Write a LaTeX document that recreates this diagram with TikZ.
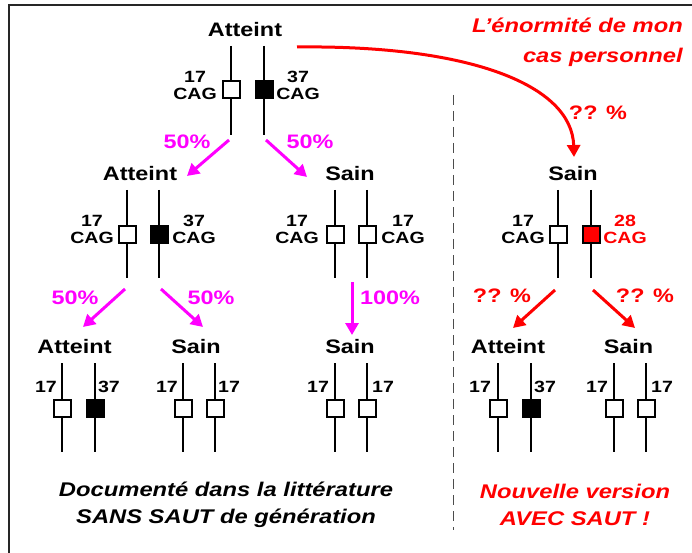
\documentclass[tikz,border=0pt]{standalone}
\usepackage{fontspec}
\setmainfont{Liberation Sans}[FakeStretch=1.2]
\usetikzlibrary{arrows.meta}
\definecolor{mag}{HTML}{FF00FF}
\definecolor{rd}{HTML}{FF0000}
\begin{document}
\begin{tikzpicture}[x=1pt,y=-1pt,
  chr/.style={line width=2pt,black},
  box/.style={draw=black,line width=2pt,minimum width=17pt,minimum height=17pt,inner sep=0pt,fill=white},
  title/.style={font=\fontsize{19.5}{20}\selectfont\bfseries},
  lbl/.style={font=\fontsize{16.3}{16.8}\selectfont\bfseries,align=center,inner sep=0pt},
  pct/.style={font=\fontsize{19.5}{20}\selectfont\bfseries,inner sep=0pt},
  marr/.style={mag,line width=3pt,-{Triangle[length=12pt,width=13pt]}},
  rarr/.style={rd,line width=3pt,-{Triangle[length=12pt,width=13pt]}},
  note/.style={font=\fontsize{19.8}{27}\selectfont\bfseries\itshape,align=center,inner sep=0pt}]
\useasboundingbox (0,0) rectangle (692,553);
\draw[line width=1.5pt,black!85] (692,5) -- (9,5) -- (9,553);
% ---------- level 1 ----------
\node[title] (t1) at (245,30) {Atteint};
\foreach \n/\x in {a/231,b/264}{
  \coordinate (l1\n t) at (\x,46); \coordinate (l1\n b) at (\x,135);
  \draw[chr] (l1\n t) -- (l1\n b);}
\node[box] (b1a) at (231,89.5) {};
\node[box,fill=black] (b1b) at (264,89.5) {};
\node[lbl] (n1a) at (195,85.5) {17\\CAG};
\node[lbl] (n1b) at (298,85.5) {37\\CAG};
% ---------- level 2 ----------
\node[title] (t2a) at (140,174) {Atteint};
\node[title] (t2b) at (350,174) {Sain};
\node[title] (t2c) at (573,174) {Sain};
\foreach \n/\x in {a/127,b/159,c/335,d/367,e/558,f/591}{
  \coordinate (l2\n t) at (\x,190); \coordinate (l2\n b) at (\x,278);
  \draw[chr] (l2\n t) -- (l2\n b);}
\node[box] (b2a) at (127,234) {};
\node[box,fill=black] (b2b) at (159,234) {};
\node[box] (b2c) at (335,234) {};
\node[box] (b2d) at (367,234) {};
\node[box] (b2e) at (558,234) {};
\node[box,fill=rd] (b2f) at (591,234) {};
\node[lbl] (n2a) at (92,229.5) {17\\CAG};
\node[lbl] (n2b) at (194,229.5) {37\\CAG};
\node[lbl] (n2c) at (297,229.5) {17\\CAG};
\node[lbl] (n2d) at (403,229.5) {17\\CAG};
\node[lbl] (n2e) at (523,229.5) {17\\CAG};
\node[lbl,text=rd] (n2f) at (625,229.5) {28\\CAG};
% ---------- level 3 ----------
\node[title] (t3a) at (74.5,347) {Atteint};
\node[title] (t3b) at (196,347) {Sain};
\node[title] (t3c) at (350,347) {Sain};
\node[title] (t3d) at (508,347) {Atteint};
\node[title] (t3e) at (628.5,347) {Sain};
\foreach \n/\x in {a/62,b/95,c/183,d/215,e/335,f/367,g/498,h/531,i/614,j/646}{
  \coordinate (l3\n t) at (\x,363); \coordinate (l3\n b) at (\x,452);
  \draw[chr] (l3\n t) -- (l3\n b);}
\foreach \n/\x in {a/62,c/183,d/215,e/335,f/367,g/498,i/614,j/646}{
  \node[box] (b3\n) at (\x,408) {};}
\node[box,fill=black] (b3b) at (95,408) {};
\node[box,fill=black] (b3h) at (531,408) {};
\foreach \n/\x/\t in {a/46/17,b/109/37,c/167/17,d/229/17,e/318/17,f/383/17,g/480/17,h/545/37,i/597/17,j/662/17}{
  \node[lbl] (n3\n) at (\x,387) {\t};}
% ---------- arrows ----------
\coordinate (a1s) at (229,140); \coordinate (a1e) at (187,176);
\coordinate (a2s) at (266,140); \coordinate (a2e) at (307,177);
\draw[marr] (a1s) -- (a1e);
\draw[marr] (a2s) -- (a2e);
\node[pct,text=mag] (p1) at (187,142) {50\%};
\node[pct,text=mag] (p2) at (310,142) {50\%};
\coordinate (a3s) at (125,289); \coordinate (a3e) at (83,327);
\coordinate (a4s) at (161,289); \coordinate (a4e) at (203,327);
\draw[marr] (a3s) -- (a3e);
\draw[marr] (a4s) -- (a4e);
\node[pct,text=mag] (p3) at (75,298) {50\%};
\node[pct,text=mag] (p4) at (211,298) {50\%};
\coordinate (a5s) at (352,282); \coordinate (a5e) at (352,335);
\draw[marr] (a5s) -- (a5e);
\node[pct,text=mag] (p5) at (390,298) {100\%};
\coordinate (a6s) at (555,290); \coordinate (a6e) at (513,328);
\coordinate (a7s) at (593,290); \coordinate (a7e) at (635,328);
\draw[rarr] (a6s) -- (a6e);
\draw[rarr] (a7s) -- (a7e);
\node[pct,text=rd] (p6) at (502,296) {?? \%};
\node[pct,text=rd] (p7) at (645,296) {?? \%};
\coordinate (cs) at (297,47); \coordinate (ce) at (574,157);
\draw[rarr] (cs) .. controls (470,45) and (572,85) .. (ce);
\node[pct,text=rd] (p8) at (598,113) {?? \%};
% ---------- texts ----------
\node[note,text=rd,align=right,anchor=north east,font=\fontsize{19.8}{30}\selectfont\bfseries\itshape] (ttl) at (683,18) {L'énormité de mon\\cas personnel};
\draw[line width=1pt,black!70,dash pattern=on 10pt off 6pt] (453,95) -- (453,530);
\node[note] (d1) at (226,505) {Documenté dans la littérature\\SANS SAUT de génération};
\node[note,text=rd] (d2) at (575,505) {Nouvelle version\\AVEC SAUT !};
\end{tikzpicture}
\end{document}
